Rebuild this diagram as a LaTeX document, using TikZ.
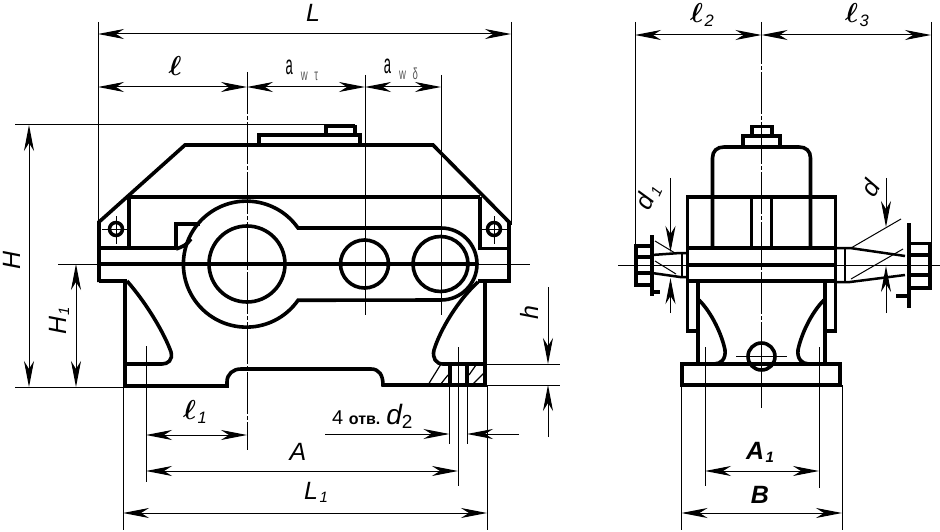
\documentclass[tikz,border=0pt]{standalone}
\usepackage{amsmath}
\usepackage{fontspec}
\setmainfont{Liberation Sans}
\usetikzlibrary{arrows.meta}

\newcommand{\lsub}[1]{\hspace{1.5pt}\raisebox{-3pt}{\fontsize{15}{15}\selectfont\itshape #1}}
\newcommand{\awsize}[1]{\scalebox{.48}[1]{\fontsize{27}{27}\selectfont a}\hspace{8pt}\raisebox{-6pt}{\color{black!65}\scalebox{.6}[1]{\fontsize{16}{16}\selectfont w\hspace{11pt}#1}}}

\tikzset{
  body/.style={line width=3.6pt,line join=miter},
  thin line/.style={line width=1pt},
  axis line/.style={line width=1pt,dash pattern=on 42pt off 2pt on 4pt off 2pt},
  dimline/.style={line width=1pt,<->},
  dimend/.style={line width=1pt,->},
  size label/.style={font=\fontsize{25}{25}\selectfont\itshape,inner sep=0pt},
  bold label/.style={font=\fontsize{25}{25}\selectfont\bfseries\itshape,inner sep=0pt},
  ell label/.style={font=\fontsize{24}{24}\selectfont,inner sep=0pt,scale=1.1},
  hatch line/.style={line width=1.2pt}
}

\begin{document}
\begin{tikzpicture}[x=1pt,y=1pt,yscale=-1,xscale=1,>={Stealth[length=26pt,width=10pt,inset=8pt]}]
\useasboundingbox (0,0) rectangle (940,532);

%Axes front view
\draw [axis line] (247,72) -- (247,450) ;
\draw [thin line] (58,264) -- (530,264) ;

%Extension lines front view
\draw [thin line] (98,22) -- (98,222) ;
\draw [thin line] (511,22) -- (511,225) ;
\draw [thin line] (365,75) -- (365,315) ;
\draw [thin line] (441,75) -- (441,315) ;
\draw [thin line] (15,125) -- (355,125) ;
\draw [thin line] (15,387) -- (125,387) ;
\draw [thin line] (146,346) -- (146,482) ;
\draw [thin line] (123,386) -- (123,530) ;
\draw [thin line] (487,385) -- (487,530) ;
\draw [thin line] (458,347) -- (458,486) ;
\draw [thin line] (449.5,385) -- (449.5,444) ;
\draw [thin line] (467,385) -- (467,444) ;
\draw [thin line] (487,364) -- (560,364) ;
\draw [thin line] (487,385) -- (560,385) ;

%Housing front view
\draw [body] (99,282) -- (99,222) -- (185,145) -- (433,145) -- (509,222) -- (509,281) -- (478,281) ;
\draw [body] (259,145) -- (259,135) -- (360,135) -- (360,145) ;
\draw [body] (326,135) -- (326,126.5) -- (355,126.5) -- (355,135) ;
\draw [body] (130,197) -- (480,197) ;
\draw [body] (129,197) -- (129,248) ;
\draw [body] (480,197) -- (480,248) ;
\draw [body] (99,248) -- (176,248) ;
\draw [body] (478,248.5) -- (509,248.5) ;
\draw [body] (99,264) -- (476,264) ;
\draw [body] (176,248) -- (176,224) -- (200,224) ;
\draw [body] (176,249) .. controls (182,247) and (187,245) .. (191,239) ;
%Bosses
\draw [body] (298,228) arc [start angle=-35,end angle=-325,radius=63] -- (441,300) arc [start angle=90,end angle=-90,radius=36] -- cycle ;
\draw [body] (247,264) circle [radius=38] ;
\draw [body] (364.5,264) circle [radius=24] ;
\draw [body] (440.5,264) circle [radius=27.5] ;
%Feet
\draw [body] (99,281) -- (125,281) -- (125,386) -- (227,386) -- (227,382) .. controls (227,374) and (233,369) .. (241,369) -- (371,369) .. controls (379,369) and (383,375) .. (383,385) -- (485,385) -- (485,281) ;
\draw [body] (127,281) .. controls (148,305) and (165,335) .. (171,352) .. controls (173,360) and (168,364) .. (162,364) -- (125,364) ;
\draw [body] (478,282) .. controls (458,300) and (440,330) .. (434,350) .. controls (432,358) and (436,364) .. (443,364) -- (485,364) ;
\draw [body] (450,364) -- (450,385) ;
\draw [body] (467,364) -- (467,385) ;
%Hatching
\draw [hatch line] (428,385) -- (441,364) ;
\draw [hatch line] (440,385) -- (448,375) ;
\draw [hatch line] (469,375) -- (476,365) ;
\draw [hatch line] (473,384) -- (484,373) ;
%Lugs
\draw [line width=3.5pt] (116,229) circle [radius=6.5] ;
\draw [line width=3.5pt] (494,229) circle [radius=6.5] ;
\draw [thin line] (102,229) -- (129,229) (116,216) -- (116,244) ;
\draw [thin line] (481,229) -- (509,229) (494,216) -- (494,244) ;

%Dimensions front view
\draw [dimline] (98,34) -- (511,34) ;
\draw [dimline] (98,87) -- (247,87) ;
\draw [dimline] (247,87) -- (365,87) ;
\draw [dimline] (365,87) -- (441,87) ;
\draw [dimline] (29,125) -- (29,387) ;
\draw [dimline] (76,264) -- (76,387) ;
\draw [dimline] (146,435) -- (247,435) ;
\draw [dimline] (146,471) -- (458,471) ;
\draw [dimline] (123,513) -- (487,513) ;
\draw [dimend] (325,434) -- (449.5,434) ;
\draw [dimend] (519,434) -- (467,434) ;
\draw [dimend] (548,287) -- (548,364) ;
\draw [dimend] (548,437) -- (548,385) ;

%Axes side view
\draw [axis line] (761.5,22) -- (761.5,408) ;
\draw [thin line] (618,265) -- (940,265) ;
\draw [thin line] (736,356.5) -- (787,356.5) ;

%Extension lines side view
\draw [thin line] (635,22) -- (635,245) ;
\draw [thin line] (931,22) -- (931,243) ;
\draw [thin line] (705,347) -- (705,486) ;
\draw [thin line] (819,347) -- (819,488) ;
\draw [thin line] (681.5,385) -- (681.5,530) ;
\draw [thin line] (842,385) -- (842,530) ;

%Housing side view
\draw [body] (712.5,248) -- (712.5,158) .. controls (712.5,151) and (717,147) .. (724,147) -- (799,147) .. controls (806,147) and (810.5,151) .. (810.5,158) -- (810.5,248) ;
\draw [body] (743,147) -- (743,136) -- (780,136) -- (780,147) ;
\draw [body] (752,136) -- (752,126.5) -- (772,126.5) -- (772,136) ;
\draw [body] (686,197) -- (837,197) ;
\draw [body] (687.5,197) -- (687.5,331) -- (698,331) ;
\draw [body] (835.5,197) -- (835.5,331) -- (825,331) ;
\draw [body] (751.5,197) -- (751.5,248) ;
\draw [body] (771.5,197) -- (771.5,248) ;
\draw [body] (687,248) -- (836,248) ;
\draw [body] (687,265) -- (836,265) ;
\draw [body] (687,281) -- (836,281) ;
\draw [body] (698,281) -- (698,364) ;
\draw [body] (825,281) -- (825,364) ;
\draw [body] (682,364) rectangle (840,385) ;
\draw [body] (699,300) .. controls (712,313) and (722,335) .. (725,350) .. controls (726,359) and (721,364) .. (714,364) ;
\draw [body] (824,300) .. controls (811,313) and (801,335) .. (798,350) .. controls (797,359) and (802,364) .. (809,364) ;
\draw [body] (761.5,356.5) circle [radius=13.5] ;

%Left shaft
\draw [body] (652,235) -- (652,296) ;
\draw [body] (652,292) -- (660,292) ;
\draw [body] (636,246) rectangle (652,285) ;
\draw [body] (636,257) -- (652,257) (636,273) -- (652,273) ;
\draw [line width=2.5pt] (652,255) -- (680,253) -- (687,253) ;
\draw [line width=2.5pt] (652,273) -- (680,277) -- (687,277) ;
\draw [line width=2.5pt] (682,253) -- (682,277) ;
\draw [thin line] (655,241) -- (675,253) ;
\draw [thin line] (655,261) -- (676,274) ;

%Right shaft
\draw [body] (909,223) -- (909,308) ;
\draw [body] (896,296) -- (909,296) ;
\draw [body] (909,243.5) rectangle (930,288) ;
\draw [body] (909,255) -- (930,255) (909,275) -- (930,275) ;
\draw [line width=2.5pt] (836,248) -- (850,248) -- (905,256) ;
\draw [line width=2.5pt] (836,282) -- (850,282) -- (905,275) ;
\draw [line width=2.5pt] (845,248) -- (845,282) ;
\draw [thin line] (851,248) -- (901,219) ;
\draw [thin line] (851,279) -- (903,249) ;

%Dimensions side view
\draw [dimline] (635,35) -- (761.5,35) ;
\draw [dimline] (761.5,35) -- (931,35) ;
\draw [dimline] (705,471) -- (819,471) ;
\draw [dimline] (681.5,513) -- (842,513) ;
\draw [dimend] (670.5,178) -- (670.5,252) ;
\draw [dimend] (670.5,313) -- (670.5,278) ;
\draw [dimend] (886,178) -- (886,227) ;
\draw [dimend] (886,313) -- (886,266) ;

% Text Node
\node [size label] (sizeL) at (313,13) {L};
\node [ell label] (sizel) at (175,66) {$\boldsymbol{\ell}$};
\node [inner sep=0pt] (sizeawt) at (302,70) {\awsize{τ}};
\node [inner sep=0pt] (sizeawd) at (401,69) {\awsize{δ}};
\node [size label,rotate=90] (sizeH) at (12,260) {H};
\node [size label,rotate=90] (sizeHa) at (59,321) {H\lsub{1}};
\node [size label,rotate=90] (sizeh) at (529,313) {h};
\node [ell label] (sizela) at (195,412) {$\boldsymbol{\ell}$\lsub{1}};
\node [size label] (sizeA) at (298,452) {A};
\node [size label] (sizeLa) at (316,492) {L\lsub{1}};
\node [inner sep=0pt,anchor=west] (holes) at (332,416) {\fontsize{20}{20}\selectfont 4 \fontsize{16}{16}\selectfont\bfseries отв. \fontsize{28}{28}\selectfont\mdseries\itshape d\raisebox{-4pt}{\fontsize{19}{19}\selectfont\upshape 2}};
\node [ell label] (sizelb) at (702,15) {$\boldsymbol{\ell}$\lsub{2}};
\node [ell label] (sizelc) at (857,15) {$\boldsymbol{\ell}$\lsub{3}};
\node [size label,rotate=65] (sized) at (648,197) {d\hspace{2pt}\lsub{1}};
\node [size label,rotate=60] (sizedb) at (870,188) {d};
\node [bold label] (sizeAa) at (760,452) {A\lsub{\bfseries 1}};
\node [bold label] (sizeB) at (760,495) {B};

\end{tikzpicture}
\end{document}
